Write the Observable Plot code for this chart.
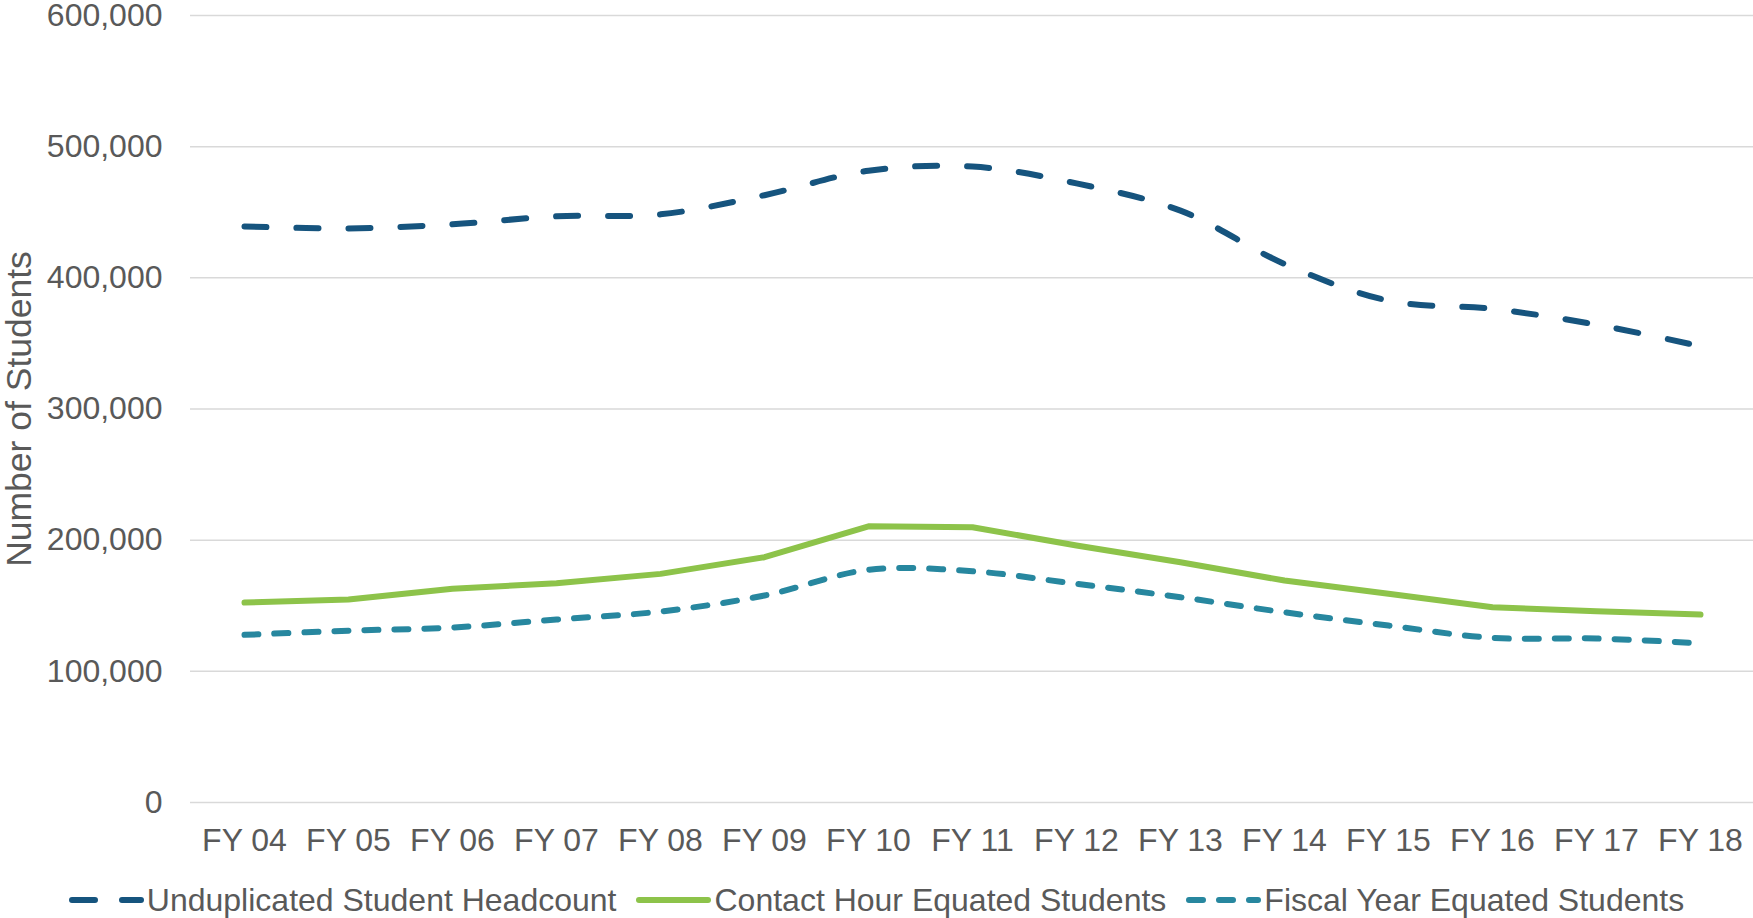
<!DOCTYPE html>
<html>
<head>
<meta charset="utf-8">
<script src="https://cdn.jsdelivr.net/npm/d3@7"></script>
<script src="https://cdn.jsdelivr.net/npm/@observablehq/plot@0.6"></script>
<style>
  body { margin: 0; background: #fff; font-family: "Liberation Sans", Arial, sans-serif; }
  #chart { position: relative; width: 1753px; height: 918px; overflow: hidden; }
  #chart > svg { overflow: visible; }
  #legend { position: absolute; left: 0; top: 878px; width: 1753px; display: flex; justify-content: center; align-items: center; gap: 20px; font-size: 32px; color: #595959; line-height: 44px; }
  .item { display: flex; align-items: center; white-space: nowrap; }
  .item svg { margin-right: 3px; display: block; }
</style>
</head>
<body>
<div id="chart"><div id="legend"></div></div>
<script>
const years = ["FY 04","FY 05","FY 06","FY 07","FY 08","FY 09","FY 10","FY 11","FY 12","FY 13","FY 14","FY 15","FY 16","FY 17","FY 18"];
const headcount   = [439200, 437700, 440800, 446900, 448400, 463000, 481700, 484800, 472000, 451200, 410600, 382600, 376300, 364300, 347800];
const contactHour = [152400, 154700, 162900, 167200, 174300, 187000, 210600, 209900, 195900, 183200, 169200, 159100, 148900, 145800, 143300];
const fiscalYear  = [127800, 131000, 133400, 139500, 145600, 157800, 177400, 176300, 166700, 156500, 145000, 134900, 125500, 125000, 121400];
const seriesNames = ["Unduplicated Student Headcount", "Contact Hour Equated Students", "Fiscal Year Equated Students"];
const seriesColors = ["#16547E", "#8DC34A", "#27879F"];
const seriesDash = ["22,30", null, "14,16"];
const seriesCurve = ["catmull-rom", "linear", "catmull-rom"];
const yTicks = [0, 100000, 200000, 300000, 400000, 500000, 600000];
const yTitle = "Number of Students";

const seriesValues = [headcount, contactHour, fiscalYear];
const tables = seriesValues.map((vals, s) => years.map((yr, i) => ({year: yr, series: seriesNames[s], value: vals[i]})));

const lineMarks = tables.map((t, s) => Plot.line(t, {
  x: "year", y: "value",
  stroke: seriesColors[s], strokeWidth: 6,
  strokeDasharray: seriesDash[s] || undefined,
  strokeLinecap: "round", strokeLinejoin: "round",
  curve: seriesCurve[s]
}));

const plot = Plot.plot({
  width: 1753, height: 870,
  marginLeft: 190, marginRight: 0, marginTop: 15, marginBottom: 68,
  style: { fontFamily: "'Liberation Sans', Arial, sans-serif", fontSize: "32px", color: "#595959", background: "#fff", overflow: "visible" },
  x: { type: "point", domain: years, padding: 0.5, label: null },
  y: { domain: [0, 600000], label: null },
  marks: [
    Plot.gridY(yTicks, { stroke: "#d9d9d9", strokeOpacity: 1, strokeWidth: 1.5 }),
    Plot.axisX({ tickSize: 0, tickPadding: 26, fontSize: 32, label: null }),
    Plot.axisY(yTicks, { tickSize: 0, tickPadding: 28, tickFormat: d3.format(","), fontSize: 32, label: null }),
    Plot.text([yTitle], { text: d => d, frameAnchor: "left", textAnchor: "middle", rotate: -90, dx: -185, lineAnchor: "top", fontSize: 35.5, fill: "#595959" }),
    ...lineMarks
  ]
});
document.getElementById("chart").prepend(plot);

// legend
const legend = d3.select("#legend");
seriesNames.forEach((name, s) => {
  const item = legend.append("div").attr("class", "item");
  const svg = item.append("svg").attr("width", 75).attr("height", 12);
  svg.append("line").attr("x1", 3).attr("x2", 72).attr("y1", 6).attr("y2", 6)
    .attr("stroke", seriesColors[s]).attr("stroke-width", 6).attr("stroke-linecap", "round")
    .attr("stroke-dasharray", s === 0 ? "23,27" : (seriesDash[s] || null));
  item.append("span").text(name);
});
</script>
</body>
</html>
